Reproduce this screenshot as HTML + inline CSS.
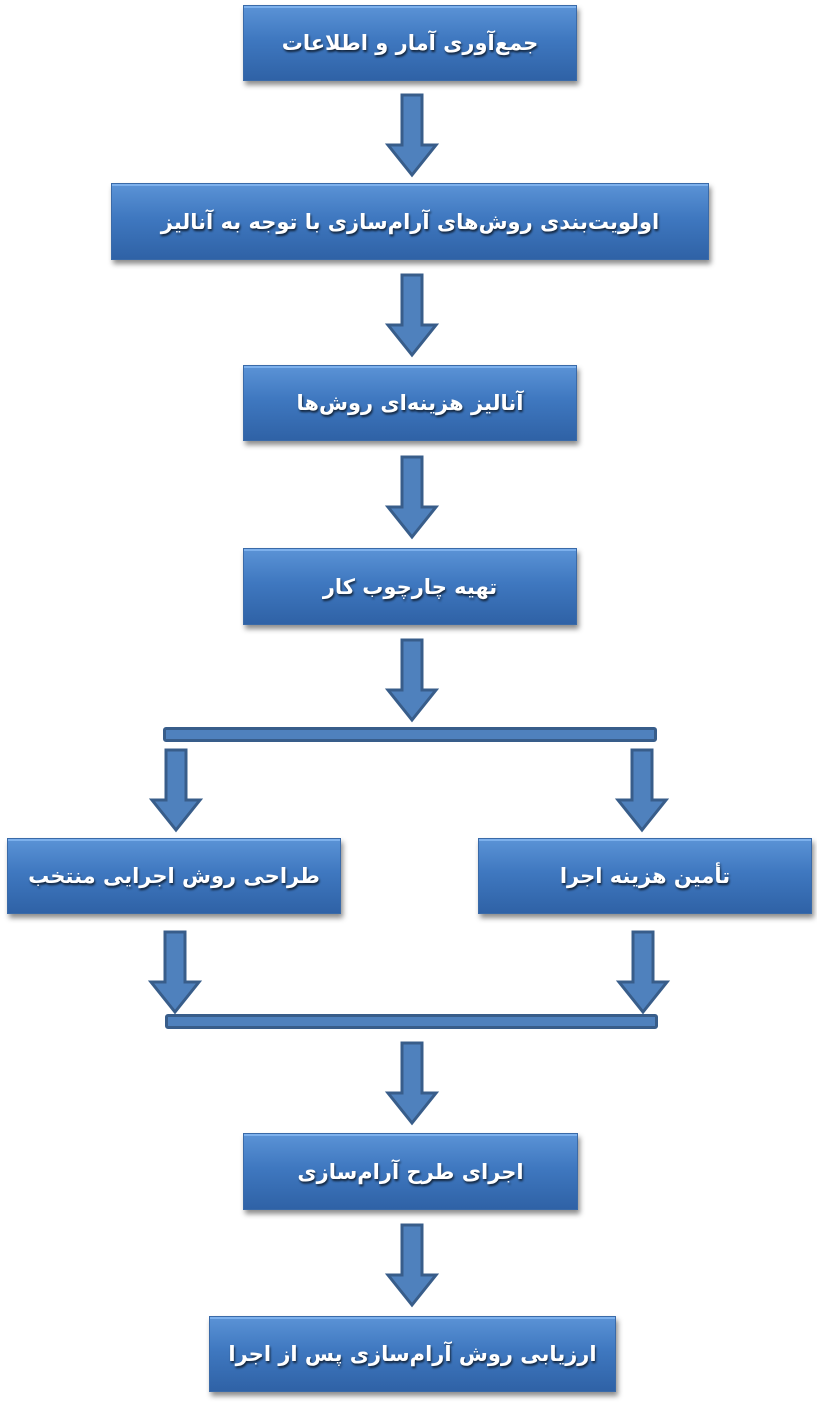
<!DOCTYPE html>
<html><head><meta charset="utf-8"><style>
body{margin:0;width:817px;height:1403px;background:#fff;position:relative;overflow:hidden}
.b{position:absolute;box-sizing:border-box;border:1px solid #3a6aa8;
background:linear-gradient(180deg,#5b93d6 0%,#3f78c0 45%,#2f62a6 100%);
box-shadow:2px 4px 5px rgba(0,0,0,.45), inset 0 2px 0 rgba(140,190,245,.7);
color:#fff;font-family:"DejaVu Sans",sans-serif;font-weight:bold;font-size:21px;
display:flex;align-items:center;justify-content:center;direction:rtl;
text-shadow:1px 2px 2px rgba(0,0,0,.7)}
.bar{position:absolute;box-sizing:border-box;background:#4f81bd;border:3px solid #385d8a;border-radius:3px}
svg{position:absolute}
</style></head><body>
<div class="b" style="left:243px;top:5px;width:334px;height:76px">جمع‌آوری آمار و اطلاعات</div>
<div class="b" style="left:111px;top:183px;width:598px;height:77px">اولویت‌بندی روش‌های آرام‌سازی با توجه به آنالیز</div>
<div class="b" style="left:243px;top:365px;width:334px;height:76px">آنالیز هزینه‌ای روش‌ها</div>
<div class="b" style="left:243px;top:548px;width:334px;height:77px">تهیه چارچوب کار</div>
<div class="b" style="left:7px;top:838px;width:334px;height:76px">طراحی روش اجرایی منتخب</div>
<div class="b" style="left:478px;top:838px;width:334px;height:76px">تأمین هزینه اجرا</div>
<div class="b" style="left:243px;top:1133px;width:335px;height:77px">اجرای طرح آرام‌سازی</div>
<div class="b" style="left:209px;top:1316px;width:407px;height:76px">ارزیابی روش آرام‌سازی پس از اجرا</div>
<div class="bar" style="left:163px;top:727px;width:494px;height:15px"></div>
<div class="bar" style="left:165px;top:1014px;width:493px;height:15px"></div>
<svg width="817" height="1403" style="left:0;top:0">
<defs><path id="a" d="M-10,0 H10 V50 H24 L0,80 L-24,50 H-10 Z" fill="#4f81bd" stroke="#385d8a" stroke-width="3" stroke-linejoin="miter"/></defs>
<use href="#a" x="412" y="95"/>
<use href="#a" x="412" y="275"/>
<use href="#a" x="412" y="457"/>
<use href="#a" x="412" y="640"/>
<use href="#a" x="176" y="750"/>
<use href="#a" x="642" y="750"/>
<use href="#a" x="175" y="932"/>
<use href="#a" x="643" y="932"/>
<use href="#a" x="412" y="1043"/>
<use href="#a" x="412" y="1225"/>
</svg>
</body></html>
